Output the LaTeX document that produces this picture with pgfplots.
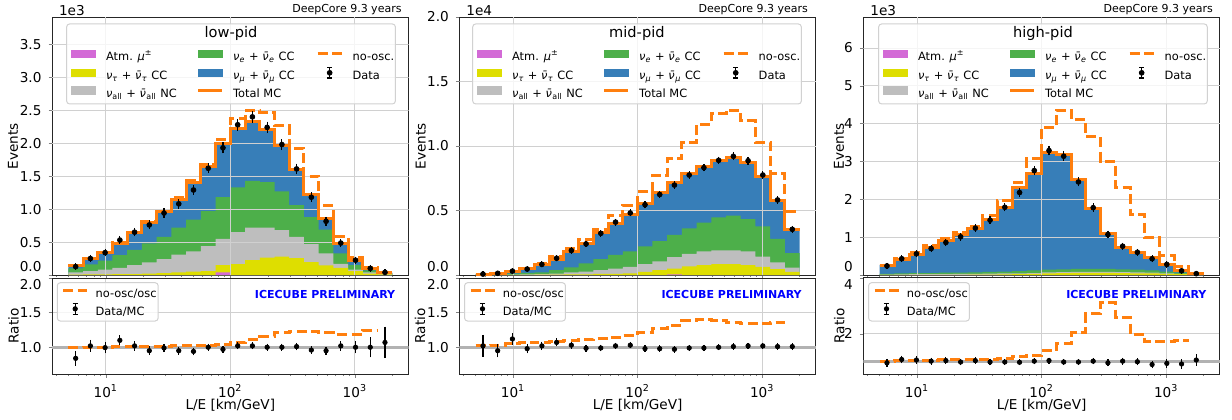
\documentclass[border=0pt]{standalone}
\usepackage{fontspec}
\setmainfont{DejaVu Sans}
\usepackage{pgfplots}
\usepackage{pgfplotstable}
\pgfplotsset{compat=1.18}
\definecolor{cmumu}{HTML}{377EB8}
\definecolor{cnue}{HTML}{4DAF4A}
\definecolor{cnc}{HTML}{BEBEBE}
\definecolor{ctau}{HTML}{DEDE00}
\definecolor{catm}{HTML}{D36AD6}
\definecolor{corange}{HTML}{FF7F0E}
\definecolor{cgrid}{HTML}{D0D0D0}
\pgfplotsset{
  every axis/.append style={scale only axis, width=178.3pt, anchor=south west, xmode=log,
    xmin=3.7, xmax=2700, tick align=outside, tick pos=left,
    grid=major, major grid style={cgrid, line width=0.5pt},
    axis line style={black!85, line width=0.5pt},
    major tick length=1.75pt, minor tick length=1pt,
    xtick={10,100,1000},
    minor xtick={4,5,6,7,8,9,20,30,40,50,60,70,80,90,200,300,400,500,600,700,800,900,2000},
    tick label style={font=\fontsize{6.8}{8}\selectfont},
    label style={font=\fontsize{6.8}{8}\selectfont}},
  legpatch/.style={legend image code/.code={\fill[#1] (0pt,0pt) rectangle (12pt,3.8pt); \path[draw=none,fill=none] (0pt,1.9pt) rectangle (17.5pt,1.9pt);}},
  legline/.style={legend image code/.code={\draw[#1] (0pt,1.9pt) -- (12pt,1.9pt); \path[draw=none,fill=none] (0pt,1.9pt) rectangle (17.5pt,1.9pt);}},
  legdata/.style={legend image code/.code={\draw[black,line width=0.6pt] (6pt,-0.7pt) -- (6pt,4.5pt) (4.7pt,-0.7pt) -- (7.3pt,-0.7pt) (4.7pt,4.5pt) -- (7.3pt,4.5pt); \fill[black] (6pt,1.9pt) circle (1.2pt); \path[draw=none,fill=none] (0pt,1.9pt) rectangle (17.5pt,1.9pt);}},
  legline2/.style={legend image code/.code={\draw[#1] (0pt,1.9pt) -- (12pt,1.9pt); \path[draw=none,fill=none] (0pt,1.9pt) rectangle (16.2pt,1.9pt);}},
  legdata2/.style={legend image code/.code={\draw[black,line width=0.6pt] (6pt,-0.9pt) -- (6pt,4.7pt) (4.7pt,-0.9pt) -- (7.3pt,-0.9pt) (4.7pt,4.7pt) -- (7.3pt,4.7pt); \fill[black] (6pt,1.9pt) circle (1.1pt); \path[draw=none,fill=none] (0pt,1.9pt) rectangle (16.2pt,1.9pt);}},
}
\tikzset{lbox/.style={rounded corners=1.5pt, draw=black!18, fill=white, fill opacity=0.8, line width=0.5pt},
  icecube/.style={anchor=east, text=blue, font=\bfseries\fontsize{5.5}{6}\selectfont},
  deepcore/.style={anchor=base east, font=\fontsize{5.5}{6}\selectfont, yshift=2.25pt},
  expo/.style={anchor=base west, font=\fontsize{6.8}{8}\selectfont, yshift=1pt},
  legtitle/.style={font=\fontsize{7.3}{8.5}\selectfont},
  upleg/.style={draw=none, fill=none, inner sep=0pt, outer sep=0pt, anchor=north west,
      column sep=0pt, row sep=2pt, font=\fontsize{5.7}{6.5}\selectfont,
      nodes={inner sep=0pt, text height=4.3pt, text depth=1.2pt}},
  loleg/.style={draw=none, fill=none, inner sep=0pt, outer sep=0pt, anchor=north west,
      row sep=1.2pt, font=\fontsize{5.7}{6.5}\selectfont,
      nodes={inner sep=0pt, text height=4.3pt, text depth=1.2pt}}}

\newcommand{\nb}{ν^^^^0304}
\newcommand{\wa}[1]{\makebox[45.3pt][l]{#1}}
\newcommand{\wb}[1]{\makebox[41.5pt][l]{#1}}
\newcommand{\upperlegend}{%
  \addlegendimage{legpatch=catm}\addlegendentry{\wa{Atm. \textit{μ}\textsuperscript{±}}}
  \addlegendimage{legpatch=cnue}\addlegendentry{\wb{\textit{ν}\textsubscript{\textit{e}} + \textit{\nb}\textsubscript{\textit{e}} CC}}
  \addlegendimage{legline={corange,line width=1.5pt,dash pattern=on 5pt off 2.2pt}}\addlegendentry{no-osc.}
  \addlegendimage{legpatch=ctau}\addlegendentry{\wa{\textit{ν}\textsubscript{\textit{τ}} + \textit{\nb}\textsubscript{\textit{τ}} CC}}
  \addlegendimage{legpatch=cmumu}\addlegendentry{\wb{\textit{ν}\textsubscript{\textit{μ}} + \textit{\nb}\textsubscript{\textit{μ}} CC}}
  \addlegendimage{legdata}\addlegendentry{Data}
  \addlegendimage{legpatch=cnc}\addlegendentry{\wa{\textit{ν}\textsubscript{all} + \textit{\nb}\textsubscript{all} NC}}
  \addlegendimage{legline={corange,line width=1.5pt}}\addlegendentry{\wb{Total MC}}
}
\newcommand{\lowerlegend}{%
  \addlegendimage{legline2={corange,line width=1.5pt,dash pattern=on 5pt off 2.2pt}}\addlegendentry{no-osc/osc}
  \addlegendimage{legdata2}\addlegendentry{Data/MC}
}
\newcommand{\fills}[1]{%
  \addplot[fill=cmumu, draw=none, const plot mark left, forget plot] table[x=e,y=mc]{#1} \closedcycle;
  \addplot[fill=cnue, draw=none, const plot mark left, forget plot] table[x=e,y=em]{#1} \closedcycle;
  \addplot[fill=cnc, draw=none, const plot mark left, forget plot] table[x=e,y=nc]{#1} \closedcycle;
  \addplot[fill=ctau, draw=none, const plot mark left, forget plot] table[x=e,y=tau]{#1} \closedcycle;
  \addplot[fill=catm, draw=none, const plot mark left, forget plot] table[x=e,y=mu]{#1} \closedcycle;
}
% grid lines redrawn above the filled histograms (as matplotlib does)
\newcommand{\gridover}[2]{%
  \pgfplotsinvokeforeach{10,100,1000}{\addplot[cgrid, line width=0.5pt, forget plot] coordinates {(##1,0) (##1,#1)};}
  \pgfplotsinvokeforeach{#2}{\addplot[cgrid, line width=0.5pt, forget plot] coordinates {(3.7,##1) (2700,##1)};}
}
\newcommand{\lines}[1]{%
  \addplot[corange, line width=1.5pt, dash pattern=on 5pt off 2.2pt, const plot mark left, forget plot] table[x=e,y=nosc]{#1};
  \addplot[corange, line width=1.5pt, const plot mark left, forget plot] table[x=e,y=mc]{#1};
}
\newcommand{\datapts}[1]{%
  \addplot[black, only marks, mark=*, mark size=1.2pt, forget plot,
    error bars/.cd, y dir=both, y explicit, error bar style={line width=0.6pt, black},
    error mark options={black, line width=0.6pt, mark size=1.3pt}] table[x=c,y=d,y error=de]{#1};
}
\newcommand{\ratiopts}[2]{%
  \addplot[black!30, line width=1.4pt, forget plot] coordinates {(3.7,1) (2700,1)};
  \addplot[corange, line width=1.5pt, dash pattern=on 5pt off 2.2pt, const plot mark left, forget plot, skip coords between index={22}{23}] table[x=e,y=rn]{#1};
  \addplot[black, only marks, mark=*, mark size=1.1pt, forget plot,
    error bars/.cd, y dir=both, y explicit, error bar style={line width=0.6pt, black},
    error mark options={black, line width=0.6pt, mark size=1.3pt}] table[x=c,y=r,y error=re]{#2};
}

% ---------------- low-pid ----------------
\pgfplotstableread{
e mc em nc tau mu nosc rn
5.000 0.150 0.100 0.040 0.005 0 0.150 0.995
6.566 0.245 0.160 0.060 0.008 0 0.245 1.000
8.621 0.342 0.220 0.080 0.010 0 0.342 1.000
11.32 0.480 0.300 0.110 0.012 0 0.487 1.010
14.86 0.640 0.380 0.150 0.015 0 0.650 1.010
19.51 0.800 0.480 0.190 0.020 0 0.810 1.010
25.62 0.960 0.580 0.240 0.030 0 0.970 1.015
33.64 1.150 0.720 0.310 0.040 0 1.170 1.020
44.17 1.400 0.840 0.360 0.050 0 1.430 1.020
58.00 1.640 0.970 0.440 0.060 0 1.680 1.025
76.15 2.000 1.180 0.550 0.150 0.040 2.060 1.035
100.0 2.230 1.330 0.650 0.165 0 2.370 1.065
131.3 2.330 1.430 0.720 0.225 0 2.490 1.105
172.4 2.210 1.410 0.720 0.265 0 2.460 1.150
226.4 1.970 1.270 0.680 0.280 0 2.270 1.210
297.2 1.600 1.060 0.580 0.255 0 1.920 1.230
390.2 1.220 0.880 0.470 0.195 0 1.500 1.230
512.4 0.860 0.690 0.330 0.145 0 1.050 1.210
672.8 0.475 0.330 0.170 0.110 0 0.580 1.190
883.4 0.225 0.150 0.080 0.060 0 0.270 1.190
1159.8 0.100 0.070 0.040 0.020 0 0.120 1.245
1522.9 0.037 0.025 0.015 0.008 0 0.045 1.245
2000 0.037 0.025 0.015 0.008 0 0.045 1.245
}\hA
\pgfplotstableread{
c d de r re
5.730 0.127 0.011 0.84 0.07
7.523 0.250 0.016 1.02 0.05
9.878 0.340 0.018 0.995 0.045
12.97 0.530 0.023 1.10 0.035
17.03 0.650 0.025 1.02 0.03
22.36 0.760 0.028 0.95 0.025
29.36 0.940 0.031 0.99 0.022
38.55 1.080 0.033 0.95 0.02
50.61 1.290 0.036 0.94 0.018
66.46 1.620 0.040 1.00 0.016
87.26 1.930 0.044 0.97 0.015
114.6 2.280 0.048 1.02 0.014
150.4 2.400 0.049 1.02 0.014
197.5 2.240 0.047 1.00 0.014
259.4 1.980 0.044 1.00 0.015
340.5 1.610 0.040 1.01 0.016
447.1 1.180 0.034 0.96 0.018
587.1 0.815 0.029 0.95 0.022
770.9 0.485 0.022 1.02 0.03
1012 0.225 0.015 1.00 0.05
1329 0.100 0.010 1.00 0.11
1745 0.040 0.006 1.07 0.19
}\pA
% ---------------- mid-pid ----------------
\pgfplotstableread{
e mc em nc tau mu nosc rn
5.000 0.069 0.030 0.010 0.003 0 0.070 1.020
6.566 0.137 0.060 0.020 0.005 0 0.140 1.030
8.621 0.270 0.100 0.030 0.008 0 0.290 1.060
11.32 0.470 0.160 0.050 0.012 0 0.500 1.065
14.86 0.800 0.200 0.070 0.020 0 0.860 1.075
19.51 1.210 0.370 0.100 0.030 0 1.450 1.085
25.62 1.840 0.600 0.200 0.040 0 2.040 1.100
33.64 2.450 0.900 0.260 0.050 0 2.750 1.115
44.17 3.260 1.240 0.370 0.080 0 3.550 1.130
58.00 4.020 1.560 0.500 0.080 0 4.600 1.145
76.15 4.670 1.830 0.630 0.130 0 5.420 1.170
100.0 5.560 2.220 0.850 0.240 0 6.450 1.210
131.3 6.370 2.620 1.060 0.370 0 7.700 1.270
172.4 7.190 3.120 1.380 0.500 0.050 9.000 1.320
226.4 7.830 3.620 1.640 0.660 0 10.30 1.380
297.2 8.400 4.070 1.830 0.770 0 11.68 1.400
390.2 8.890 4.470 1.900 0.850 0 12.50 1.390
512.4 9.110 4.600 1.900 0.850 0 12.77 1.360
672.8 8.690 4.340 1.830 0.770 0 11.94 1.345
883.4 7.600 3.760 1.430 0.630 0 10.30 1.345
1159.8 5.790 2.800 0.980 0.450 0 7.880 1.360
1522.9 3.520 1.690 0.580 0.240 0 4.900 1.360
2000 3.520 1.690 0.580 0.240 0 4.900 1.360
}\hB
\pgfplotstableread{
c d de r re
5.730 0.07 0.008 1.02 0.12
7.523 0.13 0.011 0.95 0.06
9.878 0.30 0.017 1.12 0.045
12.97 0.46 0.021 0.98 0.03
17.03 0.82 0.029 1.02 0.025
22.36 1.30 0.036 1.07 0.02
29.36 1.90 0.044 1.03 0.015
38.55 2.41 0.049 0.985 0.013
50.61 3.23 0.057 0.99 0.011
66.46 4.10 0.064 1.02 0.01
87.26 4.81 0.069 1.03 0.009
114.6 5.45 0.074 0.98 0.009
150.4 6.24 0.079 0.98 0.008
197.5 6.97 0.083 0.97 0.008
259.4 7.75 0.088 0.99 0.007
340.5 8.32 0.091 0.99 0.007
447.1 8.89 0.094 1.00 0.007
587.1 9.20 0.096 1.01 0.007
770.9 8.86 0.094 1.02 0.007
1012 7.75 0.088 1.02 0.008
1329 5.82 0.076 1.01 0.009
1745 3.54 0.060 1.01 0.012
}\pB
% ---------------- high-pid ----------------
\pgfplotstableread{
e mc em nc tau mu nosc rn
5.000 0.260 0.030 0.010 0.002 0 0.260 1.020
6.566 0.410 0.040 0.015 0.003 0 0.430 1.050
8.621 0.550 0.050 0.020 0.004 0 0.590 1.050
11.32 0.720 0.050 0.020 0.005 0 0.770 1.050
14.86 0.900 0.060 0.025 0.005 0 0.960 1.070
19.51 1.070 0.060 0.030 0.006 0 1.120 1.070
25.62 1.220 0.070 0.030 0.010 0 1.290 1.070
33.64 1.470 0.080 0.035 0.010 0 1.560 1.080
44.17 1.790 0.090 0.040 0.015 0 1.960 1.120
58.00 2.320 0.100 0.045 0.020 0 2.440 1.180
76.15 2.680 0.120 0.050 0.030 0 3.070 1.220
100.0 3.230 0.140 0.070 0.040 0 3.910 1.390
131.3 3.180 0.150 0.075 0.050 0 4.360 1.640
172.4 2.530 0.160 0.080 0.055 0 4.120 2.060
226.4 1.760 0.160 0.080 0.055 0 3.650 2.720
297.2 1.110 0.160 0.080 0.055 0 3.000 3.140
390.2 0.740 0.150 0.075 0.050 0 2.320 2.600
512.4 0.600 0.140 0.070 0.045 0 1.600 1.990
672.8 0.470 0.120 0.060 0.040 0 0.980 1.720
883.4 0.290 0.090 0.045 0.030 0 0.520 1.720
1159.8 0.130 0.060 0.030 0.020 0 0.230 1.750
1522.9 0.040 0.025 0.012 0.008 0 0.045 1.750
2000 0.040 0.025 0.012 0.008 0 0.045 1.750
}\hC
\pgfplotstableread{
c d de r re
5.730 0.24 0.015 0.96 0.05
7.523 0.43 0.021 1.08 0.045
9.878 0.56 0.024 1.06 0.04
12.97 0.70 0.026 1.02 0.035
17.03 0.86 0.029 1.04 0.03
22.36 1.01 0.032 0.99 0.03
29.36 1.24 0.035 1.04 0.028
38.55 1.45 0.038 0.99 0.025
50.61 1.79 0.042 0.99 0.022
66.46 2.18 0.047 0.98 0.02
87.26 2.76 0.053 1.02 0.018
114.6 3.29 0.057 1.04 0.017
150.4 3.14 0.056 0.99 0.018
197.5 2.46 0.050 0.99 0.02
259.4 1.78 0.042 1.02 0.023
340.5 1.07 0.033 0.96 0.03
447.1 0.76 0.028 1.02 0.035
587.1 0.60 0.025 1.00 0.04
770.9 0.43 0.021 0.90 0.045
1012 0.28 0.017 0.94 0.055
1329 0.11 0.011 0.92 0.08
1745 0.035 0.006 1.06 0.12
}\pC

\begin{document}
\begin{tikzpicture}
\useasboundingbox (0,0) rectangle (616pt,209.5pt);

% ===== Panel 1 upper =====
\begin{axis}[at={(26pt,72pt)}, height=129pt, xticklabels={}, ymin=0, ymax=3.915,
  ylabel={Events}, ylabel style={at={(axis description cs:-0.109,0.5)}, anchor=center},
  ytick={0,0.5,1,1.5,2,2.5,3,3.5},
  yticklabels={\raisebox{4pt}[\height][\depth]{0.0},0.5,1.0,1.5,2.0,2.5,3.0,3.5},
  legend columns=3, legend cell align=left,
  legend style={upleg, at={(axis description cs:0.0524,0.874)}}]
\fills{\hA}
\gridover{3.915}{0.5,1,1.5,2,2.5,3,3.5}
\lines{\hA}
\datapts{\pA}
\draw[lbox] (axis description cs:0.041,0.973) rectangle (axis description cs:0.963,0.663);
\node[legtitle] at (axis description cs:0.502,0.938) {low-pid};
\upperlegend
\end{axis}
\node[deepcore] at (204.3pt,201pt) {DeepCore 9.3 years};
\node[expo] at (26pt,201pt) {1e3};

% ===== Panel 1 lower =====
\begin{axis}[at={(26pt,22.5pt)}, height=48pt, ymin=0.614, ymax=2.0,
  xticklabels={10\textsuperscript{1},10\textsuperscript{2},10\textsuperscript{3}},
  xlabel={L/E [km/GeV]}, xlabel style={at={(axis description cs:0.5,-0.325)}, anchor=center, inner sep=0pt},
  ylabel={Ratio}, ylabel style={at={(axis description cs:-0.108,0.5)}, anchor=center},
  ytick={1,1.5,2}, yticklabels={1.0,1.5,\raisebox{-3.5pt}[\height][\depth]{2.0}},
  legend columns=1, legend cell align=left,
  legend style={loleg, at={(axis description cs:0.0272,0.883)}}]
\ratiopts{\hA}{\pA}
\draw[lbox] (axis description cs:0.0148,0.951) rectangle (axis description cs:0.2977,0.552);
\node[icecube] at (axis description cs:0.982,0.833) {ICECUBE PRELIMINARY};
\lowerlegend
\end{axis}

% ===== Panel 2 upper =====
\begin{axis}[at={(229.65pt,72pt)}, height=129pt, xticklabels={}, ymin=0, ymax=20,
  ylabel={Events}, ylabel style={at={(axis description cs:-0.108,0.5)}, anchor=center},
  ytick={0,5,10,15,20},
  yticklabels={\raisebox{4pt}[\height][\depth]{0.0},0.5,1.0,1.5,2.0},
  legend columns=3, legend cell align=left,
  legend style={upleg, at={(axis description cs:0.0489,0.874)}}]
\fills{\hB}
\gridover{20}{5,10,15}
\lines{\hB}
\datapts{\pB}
\draw[lbox] (axis description cs:0.0376,0.973) rectangle (axis description cs:0.9592,0.663);
\node[legtitle] at (axis description cs:0.498,0.938) {mid-pid};
\upperlegend
\end{axis}
\node[deepcore] at (407.5pt,201pt) {DeepCore 9.3 years};
\node[expo] at (229.65pt,201pt) {1e4};

% ===== Panel 2 lower =====
\begin{axis}[at={(229.65pt,22.5pt)}, height=48pt, ymin=0.614, ymax=2.0,
  xticklabels={10\textsuperscript{1},10\textsuperscript{2},10\textsuperscript{3}},
  xlabel={L/E [km/GeV]}, xlabel style={at={(axis description cs:0.5,-0.325)}, anchor=center, inner sep=0pt},
  ylabel={Ratio}, ylabel style={at={(axis description cs:-0.110,0.5)}, anchor=center},
  ytick={1,1.5,2}, yticklabels={1.0,1.5,\raisebox{-3.5pt}[\height][\depth]{2.0}},
  legend columns=1, legend cell align=left,
  legend style={loleg, at={(axis description cs:0.0272,0.883)}}]
\ratiopts{\hB}{\pB}
\draw[lbox] (axis description cs:0.0148,0.951) rectangle (axis description cs:0.2977,0.552);
\node[icecube] at (axis description cs:0.980,0.833) {ICECUBE PRELIMINARY};
\lowerlegend
\end{axis}

% ===== Panel 3 upper =====
\begin{axis}[at={(431.65pt,72pt)}, height=129pt, xticklabels={}, ymin=0, ymax=6.82,
  ylabel={Events}, ylabel style={at={(axis description cs:-0.068,0.5)}, anchor=center},
  ytick={0,1,2,3,4,5,6},
  yticklabels={\raisebox{4pt}[\height][\depth]{0},1,2,3,4,5,6},
  legend columns=3, legend cell align=left,
  legend style={upleg, at={(axis description cs:0.0543,0.874)}}]
\fills{\hC}
\gridover{6.82}{1,2,3,4,5,6}
\lines{\hC}
\datapts{\pC}
\draw[lbox] (axis description cs:0.043,0.973) rectangle (axis description cs:0.9646,0.663);
\node[legtitle] at (axis description cs:0.5038,0.938) {high-pid};
\upperlegend
\end{axis}
\node[deepcore] at (610pt,201pt) {DeepCore 9.3 years};
\node[expo] at (431.65pt,201pt) {1e3};

% ===== Panel 3 lower =====
\begin{axis}[at={(431.65pt,22.5pt)}, height=48pt, ymin=0.56, ymax=4.0,
  xticklabels={10\textsuperscript{1},10\textsuperscript{2},10\textsuperscript{3}},
  xlabel={L/E [km/GeV]}, xlabel style={at={(axis description cs:0.5,-0.325)}, anchor=center, inner sep=0pt},
  ylabel={Ratio}, ylabel style={at={(axis description cs:-0.067,0.5)}, anchor=center},
  ytick={2,4}, yticklabels={2,\raisebox{-3.5pt}[\height][\depth]{4}},
  legend columns=1, legend cell align=left,
  legend style={loleg, at={(axis description cs:0.0272,0.883)}}]
\ratiopts{\hC}{\pC}
\draw[lbox] (axis description cs:0.0148,0.951) rectangle (axis description cs:0.2977,0.552);
\node[icecube] at (axis description cs:0.982,0.833) {ICECUBE PRELIMINARY};
\lowerlegend
\end{axis}
\end{tikzpicture}
\end{document}
